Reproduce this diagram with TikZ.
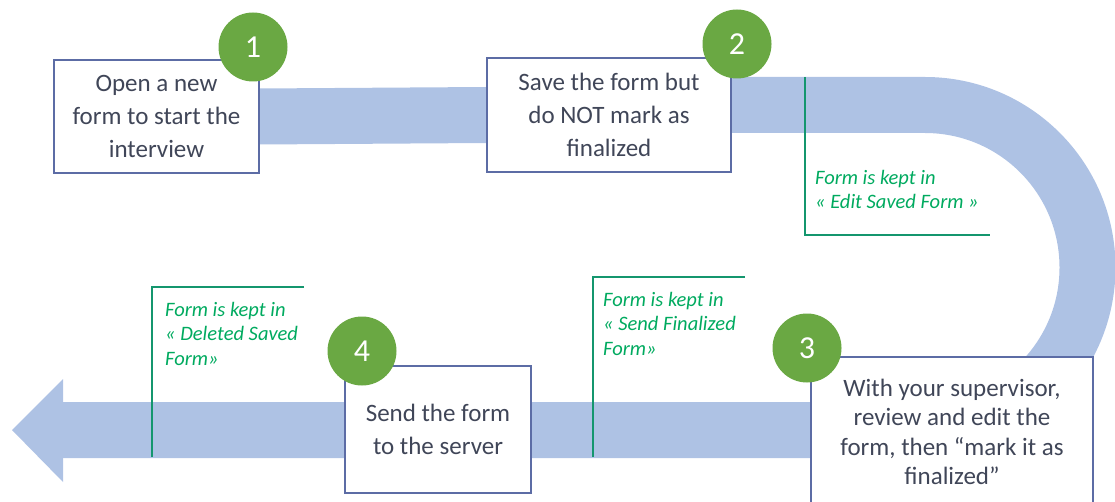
\documentclass[tikz,border=0pt]{standalone}
\usepackage{fontspec}
\setmainfont{Carlito}
\usetikzlibrary{backgrounds}

\definecolor{bandblue}{RGB}{174,194,228}
\definecolor{boxline}{RGB}{92,108,165}
\definecolor{boxtext}{RGB}{64,70,88}
\definecolor{stepgreen}{RGB}{106,168,67}
\definecolor{keepgreen}{RGB}{0,170,95}
\definecolor{keepcol}{RGB}{20,150,110}

\begin{document}
\begin{tikzpicture}[x=1pt,y=-1pt,line cap=butt,
    band/.style={draw=bandblue,line width=56pt},
    stepbox/.style={draw=boxline,line width=1.6pt,fill=white,text=boxtext,align=center,inner sep=0pt,font=\fontsize{25}{33}\selectfont},
    badge/.style={circle,fill=stepgreen,text=white,minimum size=69pt,inner sep=0pt,font=\fontsize{32}{32}\selectfont},
    keepnote/.style={anchor=north west,align=left,inner sep=0pt,text=keepgreen,font=\fontsize{20.5}{24.5}\selectfont\itshape},
    keepline/.style={draw=keepcol,line width=1.5pt}]
            \useasboundingbox (0,0) rectangle (1115,502);
            \node[stepbox,minimum width=205pt,minimum height=113pt] (open) at (156.5,116.5) {Open a new\\form to start the\\interview};   %1
            \node[stepbox,minimum width=244pt,minimum height=114pt] (save) at (609,115) {Save the form but\\do NOT mark as\\finalized};   %2
            \node[stepbox,minimum width=282pt,minimum height=150pt,font=\fontsize{25}{29.5}\selectfont] (final) at (952,432) {With your supervisor,\\review and edit the\\form, then “mark it as\\finalized”};   %3
            \node[stepbox,minimum width=186pt,minimum height=127pt] (send) at (438,429.5) {Send the form\\to the server};   %4
            \node[badge] (one) at (253,47) {1};
            \node[badge] (two) at (737,44) {2};
            \node[badge] (three) at (807,348) {3};
            \node[badge] (four) at (362,351) {4};
            \coordinate (turn) at (925,105);
            \coordinate (back) at (63,430);
            \coordinate (tip) at (12,430);
            \begin{scope}[on background layer]
            \draw[band] (open.east) -- (save.west);   % 1 to 2
            \draw[band] (save.east |- turn) -- (turn) arc[start angle=-90,end angle=90,radius=162.5] -- (back);   % u-turn
            \fill[bandblue] (63,379) -- (tip) -- (63,482) -- cycle;   % head
            \draw[keepline] (805,77) -- (805,235) -- (990,235);
            \draw[keepline] (304,287) -- (152,287) -- (152,457);
            \draw[keepline] (745,277) -- (593,277) -- (593,457);
            \end{scope}
            \node[keepnote] (keepedit) at (815,170) {Form is kept in\\« Edit Saved Form »};
            \node[keepnote] (keepdel) at (165,302) {Form is kept in\\« Deleted Saved\\Form»};
            \node[keepnote] (keepsend) at (603,292) {Form is kept in\\« Send Finalized\\Form»};
\end{tikzpicture}
\end{document}
